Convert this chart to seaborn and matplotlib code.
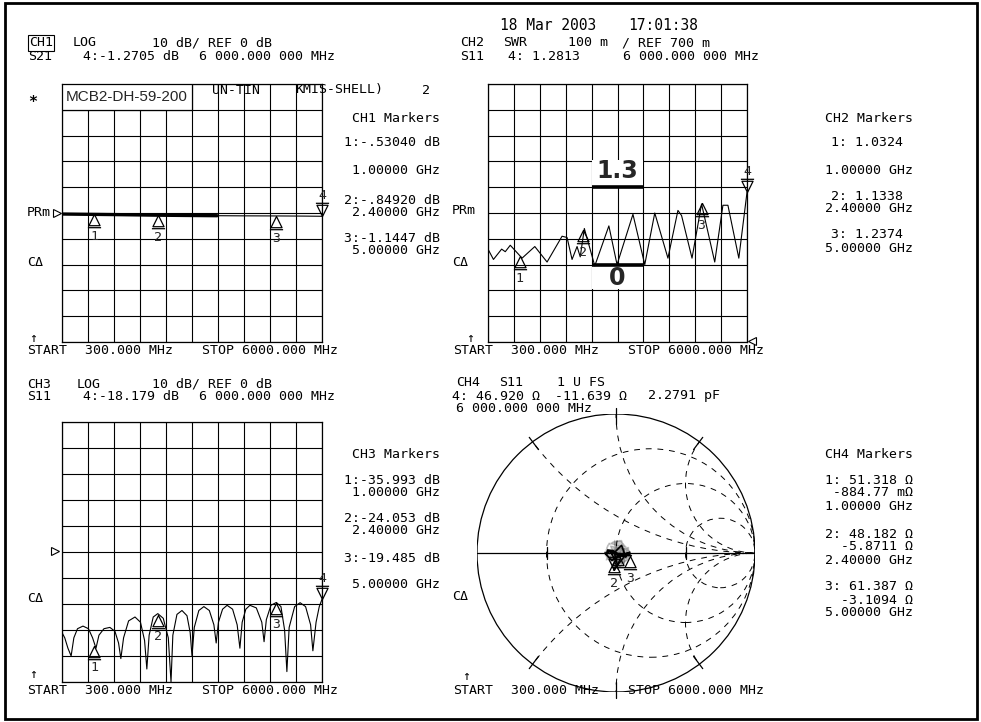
import numpy as np
import pandas as pd
import matplotlib
matplotlib.use("Agg")
import matplotlib.pyplot as plt
from matplotlib.patches import Rectangle, Circle
from matplotlib.path import Path
import seaborn as sns

# ---------------- data ----------------
F_START, F_STOP = 300.0, 6000.0   # MHz

ch1_freq = [300, 800, 1000, 1600, 2400, 3000, 3700, 4200, 5000, 5600, 6000]
ch1_s21 = [-0.40, -0.50, -0.53, -0.65, -0.85, -0.95, -1.05, -1.10, -1.14, -1.20, -1.27]
ch1_mk_freq = [1000, 2400, 5000, 6000]
ch1_mk_db = [-0.5304, -0.8492, -1.1447, -1.2705]

ch2_freq = [300, 420, 600, 680, 790, 1050, 1330, 1600, 1930, 2040, 2150, 2260, 2330,
            2420, 2650, 2960, 3140, 3490, 3750, 3970, 4260, 4480, 4560, 4790, 5000,
            5290, 5470, 5580, 5820, 6000]
ch2_swr = [1.06, 1.02, 1.06, 1.05, 1.075, 1.025, 1.07, 1.01, 1.11, 1.105, 1.02, 1.07, 1.03,
           1.14, 0.995, 1.15, 1.0, 1.195, 1.0, 1.2, 1.025, 1.21, 1.19, 1.025, 1.235,
           1.01, 1.23, 1.23, 1.025, 1.28]
ch2_mk_freq = [1000, 2400, 5000, 6000]
ch2_mk_swr = [1.0324, 1.1338, 1.2374, 1.2813]
ch2_limit_freq = [2580, 3720]
ch2_limit_hi = 1.3
ch2_limit_lo = 1.0

ch3_freq = [300, 360, 430, 500, 560, 640, 760, 880, 970, 1045, 1110, 1220, 1350, 1460,
            1540, 1590, 1650, 1760, 1900, 2020, 2110, 2160, 2210, 2300, 2400, 2520, 2630,
            2690, 2730, 2820, 2930, 3040, 3110, 3150, 3200, 3300, 3410, 3530, 3630, 3680,
            3730, 3820, 3920, 4040, 4140, 4200, 4250, 4330, 4420, 4560, 4680, 4730, 4780,
            4880, 5000, 5100, 5180, 5230, 5280, 5400, 5520, 5640, 5750, 5800, 5870, 5940, 6000]
ch3_s11 = [-31, -33, -37, -40, -33, -29.5, -28.5, -29.5, -33, -37, -32, -29.5, -29, -30.5,
           -35, -41, -33, -26.5, -25, -27, -34, -45, -32, -25, -23.7, -25.5, -33,
           -50, -32, -24, -22.5, -24.5, -31, -40, -29, -22.5, -21, -22.5, -28, -35,
           -27, -22, -20.5, -22, -28, -37, -27, -22, -20.5, -21.5, -27, -34.5, -26,
           -20.5, -19.4, -21, -30, -46, -29, -21, -19.5, -21, -28, -38, -27, -21, -18.2]
ch3_mk_freq = [1000, 2400, 5000, 6000]
ch3_mk_db = [-35.993, -24.053, -19.485, -18.179]

ch4_gamma_re = [0.00, 0.04, 0.07, 0.08, 0.05, 0.00, -0.05, -0.07, -0.06, -0.02, 0.03, 0.08,
                0.10, 0.07, 0.02, -0.03, -0.07, -0.08, -0.05, 0.00, 0.05, 0.09, 0.11, 0.08,
                0.03, -0.02, -0.06, -0.08, -0.06, -0.01, 0.04, 0.08, 0.10, 0.09, 0.05,
                0.01, -0.04, -0.07, -0.06, -0.02, 0.02, 0.06, 0.09, 0.07, 0.03, -0.03,
                -0.06, -0.04, 0.00, 0.05, 0.08, 0.06, 0.01, -0.01, -0.017]
ch4_gamma_im = [0.00, 0.02, 0.00, -0.04, -0.06, -0.07, -0.04, 0.00, 0.05, 0.08, 0.09, 0.06,
                0.01, -0.05, -0.08, -0.08, -0.05, 0.01, 0.07, 0.10, 0.08, 0.04, -0.02, -0.07,
                -0.10, -0.10, -0.07, -0.01, 0.05, 0.09, 0.09, 0.05, 0.00, -0.05, -0.09,
                -0.06, -0.03, 0.02, 0.06, 0.07, 0.04, 0.03, -0.01, -0.04, -0.06, -0.03,
                0.02, 0.05, 0.03, 0.00, -0.04, -0.08, -0.10, -0.11, -0.122]
ch4_mk_r = [51.318, 48.182, 61.387, 46.920]
ch4_mk_x = [-0.88477, -5.8711, -3.1094, -11.639]
Z0 = 50.0
smith_r_circles = [1 / 3, 1.0, 3.0]
smith_x_arcs = [0.5, 1.0, 2.0]

# ---------------- figure ----------------
sns.set_theme(style="white")
plt.rcParams['font.family'] = ['DejaVu Sans Mono', 'DejaVu Sans']

W, H = 981, 722
fig = plt.figure(figsize=(W / 100, H / 100), dpi=100)
fig.patch.set_facecolor('white')

FS = 9.5  # instrument text size


def px_axes(x0, y0, x1, y1, z=1):
    return fig.add_axes([x0 / W, 1 - y1 / H, (x1 - x0) / W, (y1 - y0) / H], zorder=z)


ov = px_axes(0, 0, W, H, z=10)
ov.set_xlim(0, W)
ov.set_ylim(H, 0)
ov.axis('off')


def T(x, y, s, ha='left', va='center', size=FS, **kw):
    ov.text(x, y, s, ha=ha, va=va, fontsize=size, color='black', **kw)


UP = Path([(0, 0), (-0.42, -0.85), (0.42, -0.85), (0, 0), (-0.5, -1.0), (0.5, -1.0)],
          [Path.MOVETO, Path.LINETO, Path.LINETO, Path.LINETO, Path.MOVETO, Path.LINETO])
DN = Path([(0, 0), (-0.42, 0.85), (0.42, 0.85), (0, 0), (-0.5, 1.0), (0.5, 1.0)],
          [Path.MOVETO, Path.LINETO, Path.LINETO, Path.LINETO, Path.MOVETO, Path.LINETO])


def draw_markers(ax, xs, ys, active_last=True, labels=None):
    for i, (x, y) in enumerate(zip(xs, ys)):
        lab = str(i + 1)
        show = labels is None or lab in labels
        if active_last and i == len(xs) - 1:
            ax.plot([x], [y], marker=DN, ms=19, mfc='none', mec='black', mew=0.9,
                    ls='none', clip_on=False, zorder=6)
            if show:
                ax.annotate(lab, (x, y), xytext=(0, 15), textcoords='offset points',
                            ha='center', va='center', fontsize=FS, annotation_clip=False, zorder=6)
        else:
            ax.plot([x], [y], marker=UP, ms=19, mfc='none', mec='black', mew=0.9,
                    ls='none', clip_on=False, zorder=6)
            if show:
                ax.annotate(lab, (x, y), xytext=(0, -16), textcoords='offset points',
                            ha='center', va='center', fontsize=FS, annotation_clip=False, zorder=6)


def grid_panel(x0, y0, x1, y1, ylim):
    ax = px_axes(x0, y0, x1, y1, z=2)
    ax.set_facecolor('white')
    ax.set_xlim(F_START, F_STOP)
    ax.set_ylim(*ylim)
    ax.set_xticks(np.linspace(F_START, F_STOP, 11))
    ax.set_yticks(np.linspace(ylim[0], ylim[1], 11))
    ax.grid(True, color='black', linewidth=0.8)
    ax.tick_params(length=0, labelbottom=False, labelleft=False)
    for s in ax.spines.values():
        s.set_visible(True)
        s.set_color('black')
        s.set_linewidth(0.9)
    return ax


# ---------------- CH1 ----------------
ax1 = grid_panel(62, 84, 322, 342, (-50, 50))
df1 = pd.DataFrame({'f': ch1_freq, 'v': ch1_s21})
sns.lineplot(data=df1, x='f', y='v', ax=ax1, color='black', linewidth=0.8, zorder=4)
sns.lineplot(data=df1[df1.f <= 3700], x='f', y='v', ax=ax1, color='black', linewidth=2.4, zorder=4)
ax1.set_xlabel('')
ax1.set_ylabel('')
draw_markers(ax1, ch1_mk_freq, ch1_mk_db)
ax1.add_patch(Rectangle((F_START, 40), 2850, 10, fc='white', ec='black', lw=0.9, zorder=3))
ax1.text(F_START + 1425, 45, "MCB2-DH-59-200", ha='center', va='center', fontsize=11,
         family='Liberation Sans', zorder=5)

# ---------------- CH2 ----------------
ax2 = grid_panel(488, 84, 747, 342, (0.7, 1.7))
df2 = pd.DataFrame({'f': ch2_freq, 'v': ch2_swr})
sns.lineplot(data=df2, x='f', y='v', ax=ax2, color='black', linewidth=0.8, zorder=4)
ax2.set_xlabel('')
ax2.set_ylabel('')
draw_markers(ax2, ch2_mk_freq, ch2_mk_swr)
fw = ch2_limit_freq[1] - ch2_limit_freq[0]
fmid = ch2_limit_freq[0] + fw / 2
ax2.add_patch(Rectangle((ch2_limit_freq[0], ch2_limit_hi), fw, 0.104, fc='white', ec='none', zorder=3))
ax2.add_patch(Rectangle((ch2_limit_freq[0], ch2_limit_lo - 0.094), fw, 0.094, fc='white', ec='none', zorder=3))
ax2.hlines([ch2_limit_hi, ch2_limit_lo], ch2_limit_freq[0], ch2_limit_freq[1], colors='black', lw=2.6, zorder=5)
ax2.text(fmid, ch2_limit_hi + 0.062, "1.3", ha='center', va='center', fontsize=17,
         family='DejaVu Sans', weight='bold', zorder=5)
ax2.text(fmid, ch2_limit_lo - 0.052, "0", ha='center', va='center', fontsize=17,
         family='DejaVu Sans', weight='bold', zorder=5)

# ---------------- CH3 ----------------
ax3 = grid_panel(62, 422, 322, 682, (-50, 50))
df3 = pd.DataFrame({'f': ch3_freq, 'v': ch3_s11})
sns.lineplot(data=df3, x='f', y='v', ax=ax3, color='black', linewidth=0.8, zorder=4)
ax3.set_xlabel('')
ax3.set_ylabel('')
draw_markers(ax3, ch3_mk_freq, ch3_mk_db)

# ---------------- CH4 (Smith) ----------------
ax4 = px_axes(477, 414, 755, 692, z=2)
ax4.set_xlim(-1, 1)
ax4.set_ylim(-1, 1)
ax4.axis('off')
outer = Circle((0, 0), 1.0, fill=False, ec='black', lw=0.9)
ax4.add_patch(outer)
ax4.plot([-1, 1], [0, 0], color='black', lw=0.9)
for r in smith_r_circles:
    c = Circle((r / (1 + r), 0), 1 / (1 + r), fill=False, ec='black', lw=0.7, ls=(0, (6, 6)))
    ax4.add_patch(c)
for xv in smith_x_arcs:
    for sgn in (1, -1):
        c = Circle((1, sgn / xv), 1 / xv, fill=False, ec='black', lw=0.7, ls=(0, (6, 6)))
        ax4.add_patch(c)
        c.set_clip_path(outer)
        th = np.pi - 2 * np.arctan(xv)
        ax4.plot([1.04 * np.cos(th), 0.93 * np.cos(th)],
                 [sgn * 1.04 * np.sin(th), sgn * 0.93 * np.sin(th)],
                 color='black', lw=0.9, clip_on=False)
for gx in (-0.5, 0.5):
    ax4.plot([gx, gx], [-0.045, 0.045], color='black', lw=0.9)
dfs = pd.DataFrame({'re': ch4_gamma_re, 'im': ch4_gamma_im})
sns.lineplot(data=dfs, x='re', y='im', ax=ax4, sort=False, color='black', linewidth=1.2, zorder=4)
ax4.set_xlabel('')
ax4.set_ylabel('')
z = (np.array(ch4_mk_r) + 1j * np.array(ch4_mk_x)) / Z0
gam = (z - 1) / (z + 1)
draw_markers(ax4, gam.real, gam.imag, labels=['2', '3'])

# ---------------- text ----------------
T(500, 25, "18 Mar 2003", size=10.5)
T(628, 25, "17:01:38", size=10.5)

# CH1 header
T(29, 43, "CH1", bbox=dict(boxstyle='square,pad=0.08', fc='white', ec='black', lw=0.8))
T(73, 43, "LOG")
T(152, 43, "10 dB/ REF 0 dB")
T(28, 57, "S21")
T(83, 57, "4:-1.2705 dB")
T(199, 57, "6 000.000 000 MHz")
T(212, 90, "UN-TIN")
T(295, 90, "KMIS-SHELL)")
T(422, 90, "2")

# CH2 header
T(460, 43, "CH2")
T(503, 43, "SWR")
T(568, 43, "100 m")
T(622, 43, "/ REF 700 m")
T(460, 57, "S11")
T(508, 57, "4: 1.2813")
T(623, 57, "6 000.000 000 MHz")

# CH3 header
T(27, 384, "CH3")
T(77, 384, "LOG")
T(152, 384, "10 dB/ REF 0 dB")
T(27, 397, "S11")
T(83, 397, "4:-18.179 dB")
T(199, 397, "6 000.000 000 MHz")

# CH4 header
T(456, 383, "CH4")
T(499, 383, "S11")
T(557, 383, "1 U FS")
T(452, 396, "4: 46.920 Ω")
T(555, 396, "-11.639 Ω")
T(648, 396, "2.2791 pF")
T(456, 409, "6 000.000 000 MHz")

# footers
for (xl, y) in [(27, 351), (453, 351), (27, 690), (453, 690)]:
    T(xl, y, "START")
    T(xl + 58, y, "300.000 MHz")
    T(xl + 175, y, "STOP 6000.000 MHz")

# left-side labels
T(33, 103, "*", ha='center', size=11, weight='bold')
T(27, 212, "PRm")
ov.plot([57], [213], marker='>', ms=6, mfc='white', mec='black', mew=0.8)
T(27, 262, "CΔ")
T(33, 338, "↑", ha='center')
T(452, 210, "PRm")
T(452, 262, "CΔ")
T(470, 338, "↑", ha='center')
ov.plot([752], [341], marker='<', ms=6, mfc='white', mec='black', mew=0.8)
ov.plot([55], [551], marker='>', ms=6, mfc='white', mec='black', mew=0.8)
T(27, 598, "CΔ")
T(33, 675, "↑", ha='center')
T(452, 597, "CΔ")
T(466, 676, "↑", ha='center')

# marker readout blocks
blk1 = [("CH1 Markers", 118), ("1:-.53040 dB", 143), ("1.00000 GHz", 170),
        ("2:-.84920 dB", 200), ("2.40000 GHz", 213), ("3:-1.1447 dB", 238), ("5.00000 GHz", 251)]
for s, y in blk1:
    T(440, y, s, ha='right')
blk2 = [("CH2 Markers", 118, 913), ("1: 1.0324", 143, 903), ("1.00000 GHz", 170, 913),
        ("2: 1.1338", 196, 903), ("2.40000 GHz", 209, 913), ("3: 1.2374", 235, 903),
        ("5.00000 GHz", 248, 913)]
for s, y, xe in blk2:
    T(xe, y, s, ha='right')
blk3 = [("CH3 Markers", 455), ("1:-35.993 dB", 480), ("1.00000 GHz", 493),
        ("2:-24.053 dB", 518), ("2.40000 GHz", 531), ("3:-19.485 dB", 558), ("5.00000 GHz", 584)]
for s, y in blk3:
    T(440, y, s, ha='right')
blk4 = [("CH4 Markers", 455), ("1: 51.318 Ω", 480), ("-884.77 mΩ", 493), ("1.00000 GHz", 506),
        ("2: 48.182 Ω", 534), ("-5.8711 Ω", 547), ("2.40000 GHz", 560),
        ("3: 61.387 Ω", 587), ("-3.1094 Ω", 600), ("5.00000 GHz", 613)]
for s, y in blk4:
    T(913, y, s, ha='right')

# outer frame
ov.add_patch(Rectangle((5, 3), 972, 716, fill=False, ec='black', lw=2))

fig.savefig("out.png", dpi=100, facecolor='white')
